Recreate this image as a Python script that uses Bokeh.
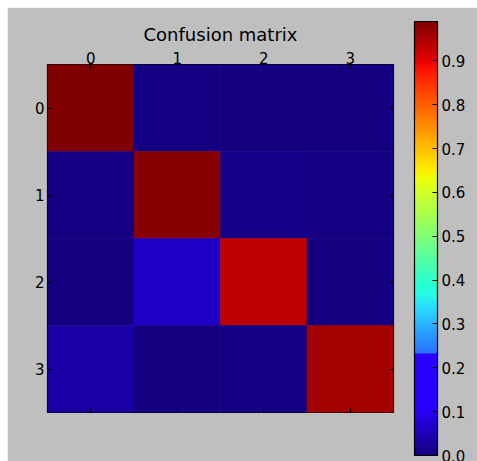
import numpy as np
from bokeh.plotting import figure
from bokeh.models import (LinearColorMapper, FixedTicker, LinearAxis, PrintfTickFormatter,
                          Range1d, ColumnDataSource, ColorBar, CustomLabelingPolicy)
from bokeh.transform import transform
from bokeh.embed import file_html
from bokeh.resources import INLINE

# ---- data ----
classes = ["0", "1", "2", "3"]
cm_row_0 = [0.990, 0.006, 0.002, 0.002]
cm_row_1 = [0.007, 0.980, 0.008, 0.005]
cm_row_2 = [0.000, 0.065, 0.935, 0.003]
cm_row_3 = [0.034, 0.003, 0.007, 0.956]
colorbar_ticks = [0.0, 0.1, 0.2, 0.3, 0.4, 0.5, 0.6, 0.7, 0.8, 0.9]
title_text = "Confusion matrix"

GRAY = "#bfbfbf"
FONT = "DejaVu Sans"


def jet_palette(n=256, green_cut=0.232, red_tint=0.16):
    x = np.linspace(0, 1, n)
    r = np.interp(x, [0, 0.35, 0.66, 0.89, 1], [0, 0, 1, 1, 0.5])
    g = np.interp(x, [0, 0.125, 0.375, 0.64, 0.91, 1], [0, 0, 1, 1, 0, 0])
    b = np.interp(x, [0, 0.11, 0.34, 0.65, 1], [0.5, 1, 1, 0, 0])
    g = np.where(x < green_cut, 0, g)
    r = np.maximum(r, red_tint * b)
    return ["#%02x%02x%02x" % (int(round(rr * 255)), int(round(gg * 255)), int(round(bb * 255)))
            for rr, gg, bb in zip(r, g, b)]


palette = jet_palette()
matrix = np.array([cm_row_0, cm_row_1, cm_row_2, cm_row_3])
n = len(classes)
lo, hi = float(matrix.min()), float(matrix.max())
mapper = LinearColorMapper(palette=palette, low=lo, high=hi)

rows_idx, cols_idx = np.meshgrid(np.arange(n), np.arange(n), indexing="ij")
src = ColumnDataSource(dict(x=cols_idx.ravel(), y=rows_idx.ravel(), v=matrix.ravel()))

p = figure(frame_width=346, frame_height=348,
           x_range=Range1d(-0.5, n - 0.5), y_range=Range1d(n - 0.5, -0.5),
           x_axis_location="above", output_backend="svg", toolbar_location=None,
           min_border_left=40, min_border_right=84, min_border_top=57, min_border_bottom=49,
           background_fill_color=GRAY, border_fill_color=GRAY,
           outline_line_color="black", outline_line_width=1.2)
p.margin = (7, 0, 0, 7)
p.grid.visible = False
p.rect(x="x", y="y", width=1, height=1, source=src,
       fill_color=transform("v", mapper), line_color=transform("v", mapper), line_width=0.5)

p.title.text = title_text
p.title.align = "center"
p.title.text_font = FONT
p.title.text_font_size = "18px"
p.title.text_font_style = "normal"
p.title.text_color = "black"
p.title.standoff = 7

overrides = {i: c for i, c in enumerate(classes)}
hide_labels = CustomLabelingPolicy(
    code="const n = indices.size; for (let i = 0; i < n; i++) { indices.unset(i) } return indices")


def style_axis(ax, show_labels=True, standoff=3):
    ax.ticker = FixedTicker(ticks=list(range(n)))
    ax.major_label_overrides = overrides
    ax.axis_line_color = None
    ax.major_tick_in = 4
    ax.major_tick_out = 0
    ax.major_tick_line_color = "black"
    ax.minor_tick_line_color = None
    ax.major_label_text_font = FONT
    ax.major_label_text_color = "black"
    ax.major_label_standoff = standoff
    ax.major_label_text_font_size = "15px"
    if not show_labels:
        ax.major_label_policy = hide_labels


style_axis(p.xaxis[0], standoff=1)
style_axis(p.yaxis[0], standoff=3)
for loc in ("below", "right"):
    ax = LinearAxis()
    style_axis(ax, show_labels=False)
    p.add_layout(ax, loc)

# ---- colorbar ----
cb = ColorBar(color_mapper=mapper, location=(367, -43), orientation="vertical",
              width=23, height=434, padding=0, margin=0,
              ticker=FixedTicker(ticks=colorbar_ticks),
              formatter=PrintfTickFormatter(format="%.1f"),
              major_tick_in=5, major_tick_out=0, major_tick_line_color="black",
              minor_tick_line_color=None, bar_line_color="black", bar_line_width=1.2,
              major_label_text_font=FONT, major_label_text_font_size="15px",
              major_label_text_color="black", label_standoff=4,
              background_fill_alpha=0, border_line_color=None)
p.add_layout(cb, "center")

open("out.html", "w").write(file_html(p, INLINE))
